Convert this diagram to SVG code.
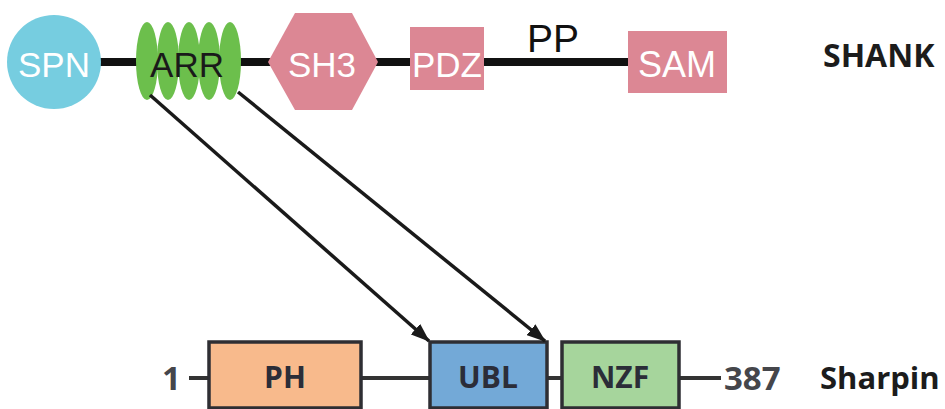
<svg xmlns="http://www.w3.org/2000/svg" width="945" height="409" viewBox="0 0 945 409">
  <style>
    .top { font-family: "Liberation Sans", Arial, sans-serif; font-size: 35px; text-anchor: middle; }
    .wht { fill: #ffffff; }
    .pink { fill: #dc8794; }
    .arr { fill: #6cbf4c; }
    .box { stroke: #2e2e33; stroke-width: 3.5; }
    .blab { font-family: "Open Sans", "Liberation Sans", sans-serif; font-weight: 700; font-size: 30px; fill: #2b2d38; text-anchor: middle; }
    .num { font-family: "Open Sans", "Liberation Sans", sans-serif; font-weight: 700; font-size: 33px; fill: #45464b; }
    .name { font-family: "Open Sans", "Liberation Sans", sans-serif; font-weight: 700; font-size: 32px; fill: #1c1c1c; }
    .link { stroke: #1a1a1a; stroke-width: 3.5; fill: none; marker-end: url(#head); }
  </style>
  <defs>
    <marker id="head" markerWidth="19" markerHeight="14" refX="18" refY="7" orient="auto" markerUnits="userSpaceOnUse">
      <path d="M0,0 L19,7 L0,14 Z" fill="#1a1a1a"/>
    </marker>
  </defs>

  <rect width="945" height="409" fill="#ffffff"/>

  <!-- SHANK backbone -->
  <line x1="90" y1="62" x2="640" y2="62" stroke="#111111" stroke-width="8"/>

  <g id="spn">
    <circle cx="54" cy="62" r="47" fill="#76cde0"/>
    <text class="top wht" x="54" y="77">SPN</text>
  </g>

  <g id="arr">
    <ellipse class="arr" cx="147" cy="61" rx="11" ry="39"/>
    <ellipse class="arr" cx="168" cy="61" rx="11" ry="39"/>
    <ellipse class="arr" cx="189" cy="61" rx="11" ry="39"/>
    <ellipse class="arr" cx="209" cy="61" rx="11" ry="39"/>
    <ellipse class="arr" cx="230" cy="61" rx="11" ry="39"/>
    <text class="top" x="187" y="77" fill="#1a1a1a">ARR</text>
  </g>

  <g id="sh3">
    <polygon class="pink" points="268,62 295,13 352,13 378,62 352,110 295,110"/>
    <text class="top wht" x="322" y="77">SH3</text>
  </g>

  <g id="pdz">
    <rect class="pink" x="410" y="27" width="74" height="63"/>
    <text class="top wht" x="447" y="77">PDZ</text>
  </g>

  <g id="pp">
    <text class="top" x="553" y="52" style="font-size:39px" fill="#111111">PP</text>
  </g>

  <g id="sam">
    <rect class="pink" x="628" y="31" width="99" height="62"/>
    <text class="top wht" x="677" y="77" style="font-size:36px">SAM</text>
  </g>

  <g id="shank-label">
    <text class="name" x="823" y="67">SHANK</text>
  </g>

  <!-- Sharpin backbone -->
  <line x1="189" y1="378" x2="721" y2="378" stroke="#333333" stroke-width="4"/>

  <g id="start">
    <text class="num" x="162" y="390">1</text>
  </g>

  <g id="ph">
    <rect class="box" x="209" y="342" width="152" height="66" fill="#f8ba8c"/>
    <text class="blab" x="285" y="388">PH</text>
  </g>

  <g id="ubl">
    <rect class="box" x="430" y="342" width="117" height="66" fill="#73a9d7"/>
    <text class="blab" x="488" y="388">UBL</text>
  </g>

  <g id="nzf">
    <rect class="box" x="562" y="342" width="117" height="66" fill="#a6d59c"/>
    <text class="blab" x="620" y="388">NZF</text>
  </g>

  <g id="end">
    <text class="num" x="724" y="390">387</text>
  </g>

  <g id="sharpin-label">
    <text class="name" x="820" y="389" style="font-size:31px">Sharpin</text>
  </g>

  <!-- ARR binds UBL -->
  <g id="connectors">
    <line class="link" x1="150" y1="95" x2="429" y2="341"/>
    <line class="link" x1="238" y1="92" x2="545" y2="341"/>
  </g>
</svg>
